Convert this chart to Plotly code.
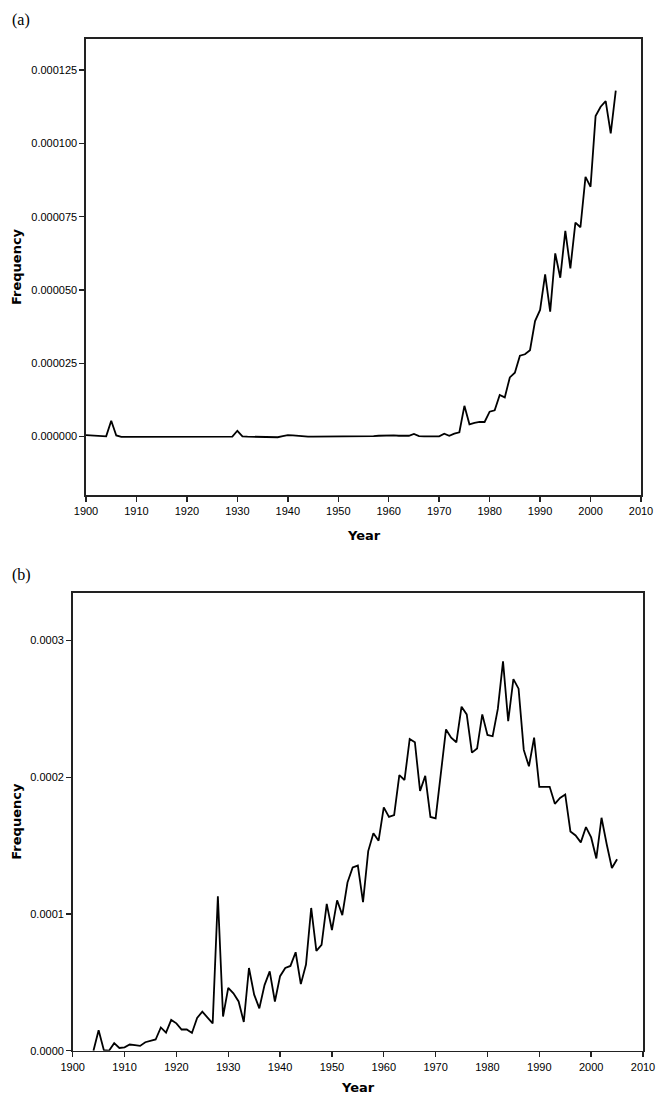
import plotly.graph_objects as go

W, H = 656, 1098

# ---------------- data ----------------
years_a = list(range(1900, 2006))
# panel (a) frequency, in millionths
freq_a_millionths = [
    0.5, 0.4, 0.2, 0.1, 0.1, 5.4, 0.4, -0.1, -0.1, -0.1,          # 1900-1909
    -0.1, -0.1, 0.0, 0.0, 0.0, 0.0, 0.0, 0.0, 0.0, 0.0,          # 1910-1919
    0.0, 0.0, 0.0, 0.0, 0.0, 0.0, 0.0, 0.0, 0.0, 0.0,            # 1920-1929
    2.0, 0.1, 0.0, 0.0, 0.0, -0.1, -0.2, -0.2, -0.2, 0.2,        # 1930-1939
    0.5, 0.4, 0.2, 0.0, 0.0, 0.0, 0.0, 0.0, 0.0, 0.0,            # 1940-1949
    0.0, 0.0, 0.0, 0.0, 0.0, 0.0, 0.1, 0.2, 0.3, 0.4,            # 1950-1959
    0.5, 0.4, 0.3, 0.2, 0.3, 0.9, 0.2, 0.1, 0.1, 0.1,            # 1960-1969
    0.1, 1.0, 0.3, 1.0, 1.5, 10.5, 4.2, 4.7, 5.0, 5.0,           # 1970-1979
    8.5, 9.0, 14.2, 13.4, 20.2, 21.8, 27.6, 28.1, 29.5, 39.4,    # 1980-1989
    43.2, 55.3, 42.6, 62.5, 54.2, 70.2, 57.4, 73.0, 71.4, 88.6,  # 1990-1999
    85.2, 109.3, 112.5, 114.4, 103.4, 118.0,                     # 2000-2005
]
freq_a = [v * 1e-6 for v in freq_a_millionths]

years_b = list(range(1904, 2006))
# panel (b) frequency, in millionths
freq_b_millionths = [
    0.0, 15.0, 0.5, 0.0, 5.5, 2.0,                                # 1904-1909
    2.5, 4.5, 4.0, 3.5, 6.2, 7.0, 8.2, 17.0, 13.2, 22.5,          # 1910-1919
    20.0, 15.5, 15.5, 13.0, 24.0, 28.5, 24.5, 20.0, 113.0, 25.0,  # 1920-1929
    46.0, 42.0, 36.0, 21.0, 60.5, 41.0, 31.0, 48.0, 58.0, 36.0,   # 1930-1939
    54.5, 60.5, 62.0, 72.0, 48.7, 63.0, 104.4, 73.0, 77.4, 107.4, # 1940-1949
    88.2, 110.0, 99.2, 123.0, 134.0, 135.4, 108.7, 146.0, 159.0, 153.6,  # 1950-1959
    178.0, 171.0, 172.4, 201.6, 198.0, 228.0, 225.6, 190.0, 201.0, 171.0,  # 1960-1969
    170.0, 201.0, 235.0, 229.0, 225.6, 251.6, 246.0, 218.0, 221.0, 246.0,  # 1970-1979
    231.0, 230.0, 250.0, 284.8, 241.0, 271.8, 264.8, 220.0, 208.0, 229.0,  # 1980-1989
    193.0, 193.0, 193.0, 180.6, 184.9, 187.4, 160.4, 157.4, 152.4, 163.6,  # 1990-1999
    156.0, 140.6, 170.4, 151.0, 133.6, 140.0,                             # 2000-2005
]
freq_b = [v * 1e-6 for v in freq_b_millionths]

x_ticks = list(range(1900, 2011, 10))
y_ticks_a = [0.0, 0.000025, 0.000050, 0.000075, 0.000100, 0.000125]
y_ticks_b = [0.0, 0.0001, 0.0002, 0.0003]

# ---------------- layout helpers (pixel -> paper) ----------------
def px(x):
    return x / W

def py(y):
    return 1 - y / H

# plot frames in pixels
A = dict(l=86, r=641, t=39, b=495)
B = dict(l=72.7, r=643, t=592.7, b=1050.7)

line_style = dict(color="black", width=1.8)
tick_font = dict(family="Liberation Sans, Arial, sans-serif", size=11, color="black")
title_font = dict(family="DejaVu Sans, Verdana, sans-serif", size=13, color="black")

fig = go.Figure()
fig.add_trace(go.Scatter(x=years_a, y=freq_a, mode="lines", line=line_style,
                         xaxis="x", yaxis="y", showlegend=False, hoverinfo="skip"))
fig.add_trace(go.Scatter(x=years_b, y=freq_b, mode="lines", line=line_style,
                         xaxis="x2", yaxis="y2", showlegend=False, hoverinfo="skip"))

common_axis = dict(showgrid=False, zeroline=False, showline=True, linecolor="#222",
                   linewidth=1.6, mirror=True, ticks="outside", ticklen=5,
                   tickwidth=1.4, tickcolor="#222", tickfont=tick_font,
                   automargin=False)

fig.update_layout(
    width=W, height=H,
    margin=dict(l=0, r=0, t=0, b=0, pad=0),
    paper_bgcolor="white", plot_bgcolor="white",
    xaxis=dict(domain=[px(A["l"]), px(A["r"])], range=[1900, 2010],
               tickvals=x_ticks, anchor="y", **common_axis),
    yaxis=dict(domain=[py(A["b"]), py(A["t"])], range=[-0.0000199, 0.0001356],
               tickvals=y_ticks_a, tickformat=".6f", anchor="x", **common_axis),
    xaxis2=dict(domain=[px(B["l"]), px(B["r"])], range=[1900, 2010],
                tickvals=x_ticks, anchor="y2", **common_axis),
    yaxis2=dict(domain=[py(B["b"]), py(B["t"])], range=[0, 0.000335],
                tickvals=y_ticks_b, tickformat=".4f", anchor="x2", **common_axis),
)

annotations = [
    dict(text="(a)", x=px(21), y=py(20), font=dict(family="Liberation Serif, serif", size=16, color="black")),
    dict(text="(b)", x=px(21), y=py(575), font=dict(family="Liberation Serif, serif", size=16, color="black")),
    dict(text="<b>Frequency</b>", x=px(17), y=py((A["t"] + A["b"]) / 2), textangle=-90, font=title_font),
    dict(text="<b>Frequency</b>", x=px(17), y=py((B["t"] + B["b"]) / 2), textangle=-90, font=title_font),
    dict(text="<b>Year</b>", x=px((A["l"] + A["r"]) / 2), y=py(535), font=title_font),
    dict(text="<b>Year</b>", x=px((B["l"] + B["r"]) / 2), y=py(1087), font=title_font),
]
for a in annotations:
    a.update(xref="paper", yref="paper", showarrow=False, xanchor="center", yanchor="middle")
fig.update_layout(annotations=annotations)

fig.write_html(
    "out.html",
    config={"displayModeBar": False, "staticPlot": True},
    post_script="document.documentElement.style.margin='0';"
                "document.body.style.margin='0';document.body.style.padding='0';"
                "document.body.style.overflow='hidden';",
)
